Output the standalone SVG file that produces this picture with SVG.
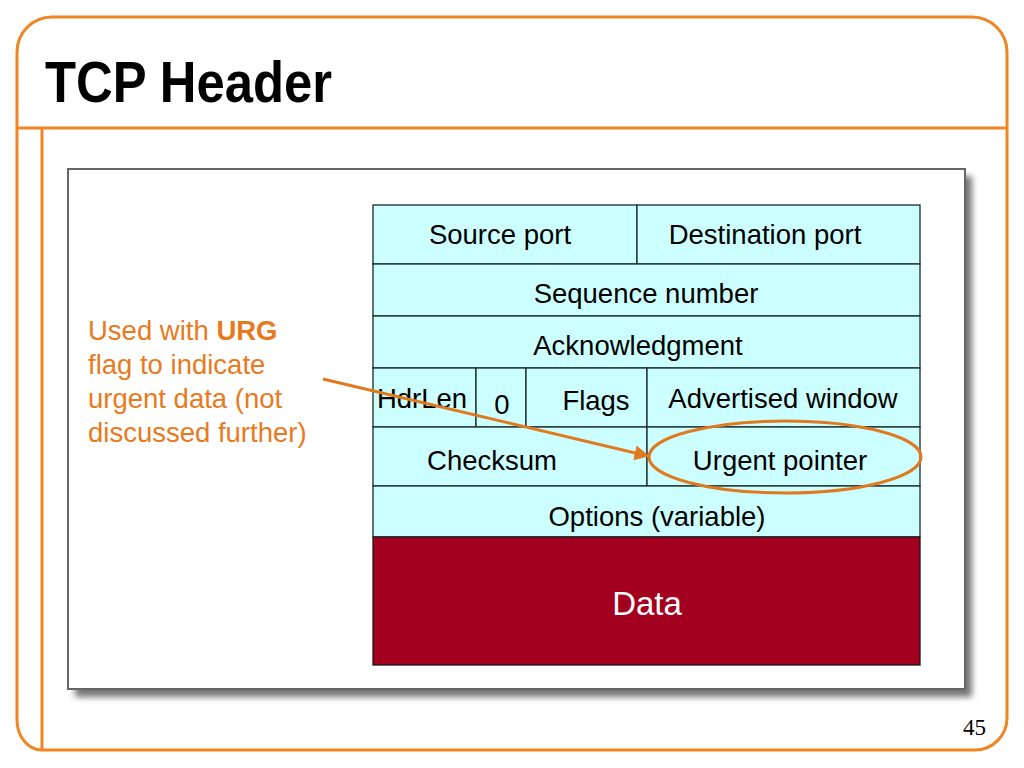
<svg xmlns="http://www.w3.org/2000/svg" width="1024" height="768" viewBox="0 0 1024 768">
<style>
.frame{fill:none;stroke:#EF8523;stroke-width:3}
.cell{fill:#CCFFFF;stroke:#1a2a2a;stroke-width:1.3}
.t{font-family:"Liberation Sans",Arial,sans-serif;font-size:27.5px;fill:#000;text-anchor:middle}
.note{font-family:"Liberation Sans",Arial,sans-serif;font-size:27.5px;fill:#E87A1E}
.orange{stroke:#E07A20;stroke-width:3;fill:none}
</style>
<defs>
<filter id="sh" x="-5%" y="-5%" width="115%" height="115%">
<feGaussianBlur stdDeviation="3"/>
</filter>
<marker id="ah" viewBox="0 0 10 10" refX="9" refY="5" markerWidth="5" markerHeight="5" orient="auto" markerUnits="strokeWidth">
<path d="M0,0 L10,5 L0,10 z" fill="#E07A20"/>
</marker>
</defs>
<rect width="1024" height="768" fill="#fff"/>
<g id="frame">
<path class="frame" d="M17 52 A35 35 0 0 1 52 17 H972 A35 35 0 0 1 1007 52 V718 A32 32 0 0 1 975 750 H42 A25 30 0 0 1 17 720 Z"/>
<line class="frame" x1="17" y1="128" x2="1007" y2="128"/>
<line class="frame" x1="42" y1="128" x2="42" y2="750"/>
</g>
<g id="title">
<text x="45" y="102" font-family="'Liberation Sans',Arial,sans-serif" font-weight="bold" font-size="57" textLength="287" lengthAdjust="spacingAndGlyphs" fill="#000">TCP Header</text>
</g>
<g id="panel">
<rect x="75" y="176" width="897" height="521" fill="#777" filter="url(#sh)"/>
<rect x="68" y="169" width="897" height="520" fill="#fff" stroke="#666" stroke-width="2"/>
</g>
<g id="table">
<g id="row1">
<rect class="cell" x="373" y="205" width="264" height="59"/>
<text class="t" x="500" y="244">Source port</text>
<rect class="cell" x="637" y="205" width="283" height="59"/>
<text class="t" x="765" y="244">Destination port</text>
</g>
<g id="row2">
<rect class="cell" x="373" y="264" width="547" height="52"/>
<text class="t" x="646" y="303">Sequence number</text>
</g>
<g id="row3">
<rect class="cell" x="373" y="316" width="547" height="52"/>
<text class="t" x="638" y="355">Acknowledgment</text>
</g>
<g id="row4">
<rect class="cell" x="373" y="368" width="103" height="59"/>
<text class="t" x="422" y="408">HdrLen</text>
<rect class="cell" x="476" y="368" width="50" height="59"/>
<text class="t" x="502" y="414">0</text>
<rect class="cell" x="526" y="368" width="121" height="59"/>
<text class="t" x="596" y="410">Flags</text>
<rect class="cell" x="647" y="368" width="273" height="59"/>
<text class="t" x="783" y="408">Advertised window</text>
</g>
<g id="row5">
<rect class="cell" x="373" y="427" width="274" height="59"/>
<text class="t" x="492" y="470">Checksum</text>
<rect class="cell" x="647" y="427" width="273" height="59"/>
<text class="t" x="780" y="470">Urgent pointer</text>
</g>
<g id="row6">
<rect class="cell" x="373" y="486" width="547" height="51"/>
<text class="t" x="657" y="526">Options (variable)</text>
</g>
<g id="data">
<rect x="373" y="537" width="547" height="128" fill="#A30020" stroke="#1a1a1a" stroke-width="1.3"/>
<text class="t" x="647" y="615" style="fill:#fff;font-size:33px">Data</text>
</g>
</g>
<g id="note">
<text class="note" x="88" y="340">Used with <tspan font-weight="bold">URG</tspan></text>
<text class="note" x="88" y="374">flag to indicate</text>
<text class="note" x="88" y="408">urgent data (not</text>
<text class="note" x="88" y="442">discussed further)</text>
</g>
<g id="connectors">
<line class="orange" x1="323" y1="379" x2="648" y2="456" marker-end="url(#ah)"/>
<ellipse class="orange" cx="785" cy="457" rx="136" ry="36"/>
</g>
<g id="pagenum">
<text x="986" y="735" font-family="'Liberation Serif','Times New Roman',serif" font-size="23" text-anchor="end" fill="#000">45</text>
</g>
</svg>
